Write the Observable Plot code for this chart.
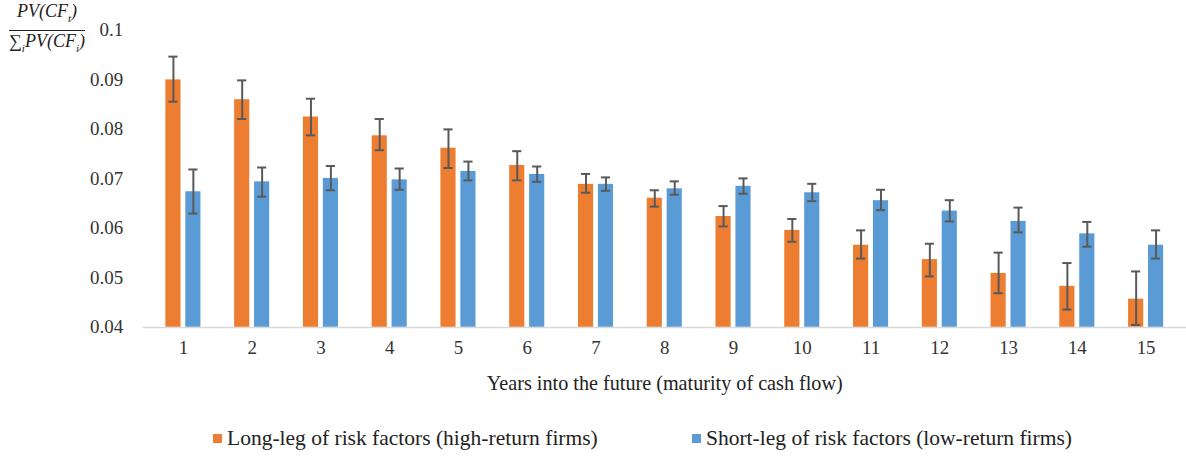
<!DOCTYPE html>
<html>
<head>
<meta charset="utf-8">
<script src="https://cdn.jsdelivr.net/npm/d3@7"></script>
<script src="https://cdn.jsdelivr.net/npm/@observablehq/plot@0.6"></script>
<style>
  html, body { margin: 0; padding: 0; background: #fff; overflow: hidden; }
  body { width: 1186px; height: 456px; position: relative; font-family: "Liberation Serif", "Times New Roman", serif; }
  #chart { position: absolute; left: 0; top: 0; }
  #ylab { position: absolute; left: 9px; top: 1px; font-style: italic; font-size: 18px; color: #222; text-align: center; line-height: 21px; }
  #ylab .num { padding: 0 3px 1px 3px; border-bottom: 1px solid #222; }
  #ylab .den { padding-top: 0px; }
  #ylab sub { font-size: 11px; }
  #legend { position: absolute; left: 0; top: 426px; width: 1186px; font-size: 21.5px; color: #222; }
  .item { position: absolute; top: 0; white-space: nowrap; }
  .sw { display: inline-block; width: 9px; height: 9px; margin-right: 5px; vertical-align: 2px; }
</style>
</head>
<body>
<div id="chart"></div>
<div id="ylab"><div class="num">PV(CF<sub>t</sub>)</div><div class="den"><span style="font-style:normal">∑</span><sub>i</sub>PV(CF<sub>i</sub>)</div></div>
<div id="legend"></div>
<script>
const years = [1,2,3,4,5,6,7,8,9,10,11,12,13,14,15];
const seriesNames = ["Long-leg of risk factors (high-return firms)", "Short-leg of risk factors (low-return firms)"];
const longVals = [0.0900, 0.0860, 0.0825, 0.0787, 0.0762, 0.0727, 0.0689, 0.0661, 0.0624, 0.0596, 0.0566, 0.0537, 0.0509, 0.0483, 0.0457];
const longLo   = [0.0856, 0.0821, 0.0788, 0.0758, 0.0722, 0.0697, 0.0672, 0.0644, 0.0604, 0.0573, 0.0539, 0.0503, 0.0469, 0.0436, 0.0405];
const longHi   = [0.0947, 0.0899, 0.0862, 0.0821, 0.0800, 0.0756, 0.0710, 0.0677, 0.0645, 0.0619, 0.0596, 0.0569, 0.0551, 0.0530, 0.0513];
const shortVals = [0.0674, 0.0694, 0.0701, 0.0698, 0.0715, 0.0709, 0.0689, 0.0680, 0.0685, 0.0672, 0.0656, 0.0635, 0.0614, 0.0589, 0.0566];
const shortLo   = [0.0630, 0.0664, 0.0677, 0.0678, 0.0697, 0.0694, 0.0676, 0.0668, 0.0670, 0.0655, 0.0637, 0.0614, 0.0592, 0.0563, 0.0539];
const shortHi   = [0.0719, 0.0723, 0.0726, 0.0721, 0.0735, 0.0725, 0.0703, 0.0695, 0.0701, 0.0690, 0.0678, 0.0657, 0.0642, 0.0613, 0.0596];
const yTicks = [0.04, 0.05, 0.06, 0.07, 0.08, 0.09, 0.1];
const yTickLabels = ["0.04", "0.05", "0.06", "0.07", "0.08", "0.09", "0.1"];
const xTitle = "Years into the future (maturity of cash flow)";
const colors = ["#ED7D31", "#5B9BD5"];
const errColor = "#595959";

const longData = years.map((y, i) => ({year: y, v: longVals[i], lo: longLo[i], hi: longHi[i]}));
const shortData = years.map((y, i) => ({year: y, v: shortVals[i], lo: shortLo[i], hi: shortHi[i]}));

const W = 1190, ML = 143, MR = 0;
const band = (W - ML - MR) / years.length;
const half = band / 2;
const bw = 16, gap = 4, capW = 10;

const yBase = yTicks[0];

const plot = Plot.plot({
  width: W,
  height: 400,
  marginLeft: ML,
  marginRight: MR,
  marginTop: 30,
  marginBottom: 72,
  style: {fontFamily: "'Liberation Serif', 'Times New Roman', serif", fontSize: "19px", color: "#333", background: "#fff", overflow: "visible"},
  x: {type: "band", domain: years, padding: 0},
  y: {domain: [yTicks[0], yTicks[yTicks.length - 1]]},
  marks: [
    Plot.axisY({ticks: yTicks, tickFormat: (d) => yTickLabels[yTicks.indexOf(d)], tickSize: 0, tickPadding: 20, label: null, fontSize: 19}),
    Plot.axisX({tickSize: 0, tickPadding: 13, label: null, fontSize: 19}),
    Plot.axisX({tickSize: 0, ticks: [], label: xTitle, labelAnchor: "center", labelArrow: "none", labelOffset: 63, fontSize: 20.25, fill: "#222"}),
    Plot.barY(longData, {x: "year", y1: () => yBase, y2: "v", fill: colors[0], insetLeft: half - gap / 2 - bw, insetRight: half + gap / 2}),
    Plot.barY(shortData, {x: "year", y1: () => yBase, y2: "v", fill: colors[1], insetLeft: half + gap / 2, insetRight: half - gap / 2 - bw}),
    Plot.ruleY([yBase], {stroke: "#d9d9d9", strokeWidth: 1.5}),
    Plot.ruleX(longData, {x: "year", y1: "lo", y2: "hi", dx: -(gap / 2 + bw / 2), stroke: errColor, strokeWidth: 2}),
    Plot.ruleX(shortData, {x: "year", y1: "lo", y2: "hi", dx: (gap / 2 + bw / 2), stroke: errColor, strokeWidth: 2}),
    Plot.tickY(longData, {x: "year", y: "hi", dx: -(gap / 2 + bw / 2), insetLeft: half - capW / 2, insetRight: half - capW / 2, stroke: errColor, strokeWidth: 2}),
    Plot.tickY(longData, {x: "year", y: "lo", dx: -(gap / 2 + bw / 2), insetLeft: half - capW / 2, insetRight: half - capW / 2, stroke: errColor, strokeWidth: 2}),
    Plot.tickY(shortData, {x: "year", y: "hi", dx: (gap / 2 + bw / 2), insetLeft: half - capW / 2, insetRight: half - capW / 2, stroke: errColor, strokeWidth: 2}),
    Plot.tickY(shortData, {x: "year", y: "lo", dx: (gap / 2 + bw / 2), insetLeft: half - capW / 2, insetRight: half - capW / 2, stroke: errColor, strokeWidth: 2})
  ]
});
document.getElementById("chart").appendChild(plot);

const legend = document.getElementById("legend");
const legendX = [213, 692];
seriesNames.forEach((name, i) => {
  const item = document.createElement("div");
  item.className = "item";
  item.style.left = legendX[i] + "px";
  const sw = document.createElement("span");
  sw.className = "sw";
  sw.style.background = colors[i];
  item.appendChild(sw);
  item.appendChild(document.createTextNode(name));
  legend.appendChild(item);
});
</script>
</body>
</html>
